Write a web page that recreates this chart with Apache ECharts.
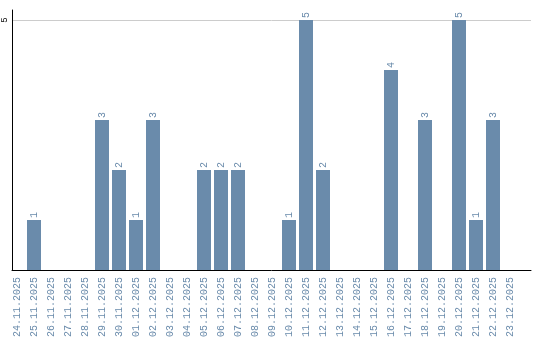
<!DOCTYPE html>
<html><head><meta charset="utf-8">
<script src="https://cdn.jsdelivr.net/npm/echarts@6/dist/echarts.min.js"></script>
<style>html,body{margin:0;padding:0;background:#fff}#c{width:540px;height:340px}</style>
</head><body><div id="c"></div>
<script>
const categories = ["24.11.2025","25.11.2025","26.11.2025","27.11.2025","28.11.2025","29.11.2025","30.11.2025","01.12.2025","02.12.2025","03.12.2025","04.12.2025","05.12.2025","06.12.2025","07.12.2025","08.12.2025","09.12.2025","10.12.2025","11.12.2025","12.12.2025","13.12.2025","14.12.2025","15.12.2025","16.12.2025","17.12.2025","18.12.2025","19.12.2025","20.12.2025","21.12.2025","22.12.2025","23.12.2025"];
const values = [0,1,0,0,0,3,2,1,3,0,0,2,2,2,0,0,1,5,2,0,0,0,4,0,3,0,5,1,3,0];
const yTicks = [5];
const yMax = 5.2;

const blue = '#6a8bab';
const mono = '"Liberation Mono", monospace';
const chart = echarts.init(document.getElementById('c'), null, {renderer:'canvas'});
chart.setOption({
  animation:false,
  backgroundColor:'#fff',
  grid:[
    {left:11, top:10, width:520, height:260},
    {left:8.5, top:10, width:510, height:260}
  ],
  xAxis:[
    {type:'category', gridIndex:0, data:categories, axisLine:{show:true, lineStyle:{color:'#000', width:1}}, axisTick:{show:false}, axisLabel:{show:false}, splitLine:{show:false}},
    {type:'category', gridIndex:1, data:categories, axisLine:{show:false}, axisTick:{show:false},
     axisLabel:{rotate:90, interval:0, margin:7, color:blue, fontFamily:mono, fontSize:10}}
  ],
  yAxis:[
    {type:'value', gridIndex:0, min:0, max:yMax,
     axisLine:{show:true, lineStyle:{color:'#000', width:1}},
     axisTick:{show:false, customValues:yTicks},
     axisLabel:{customValues:yTicks, rotate:90, margin:3, color:'#000', fontFamily:mono, fontSize:9},
     splitLine:{show:true, customValues:yTicks, lineStyle:{color:'#cccccc', width:1}}},
    {type:'value', gridIndex:1, min:0, max:yMax, show:false, splitLine:{show:false}}
  ],
  series:[
    {type:'bar', xAxisIndex:1, yAxisIndex:1, data:values, barWidth:14,
     itemStyle:{color:blue},
     label:{show:true, position:'top', rotate:90, align:'left', verticalAlign:'middle', distance:2,
       color:blue, fontFamily:mono, fontSize:10,
       formatter:p => p.value ? String(p.value) : ''}}
  ]
});
</script></body></html>
